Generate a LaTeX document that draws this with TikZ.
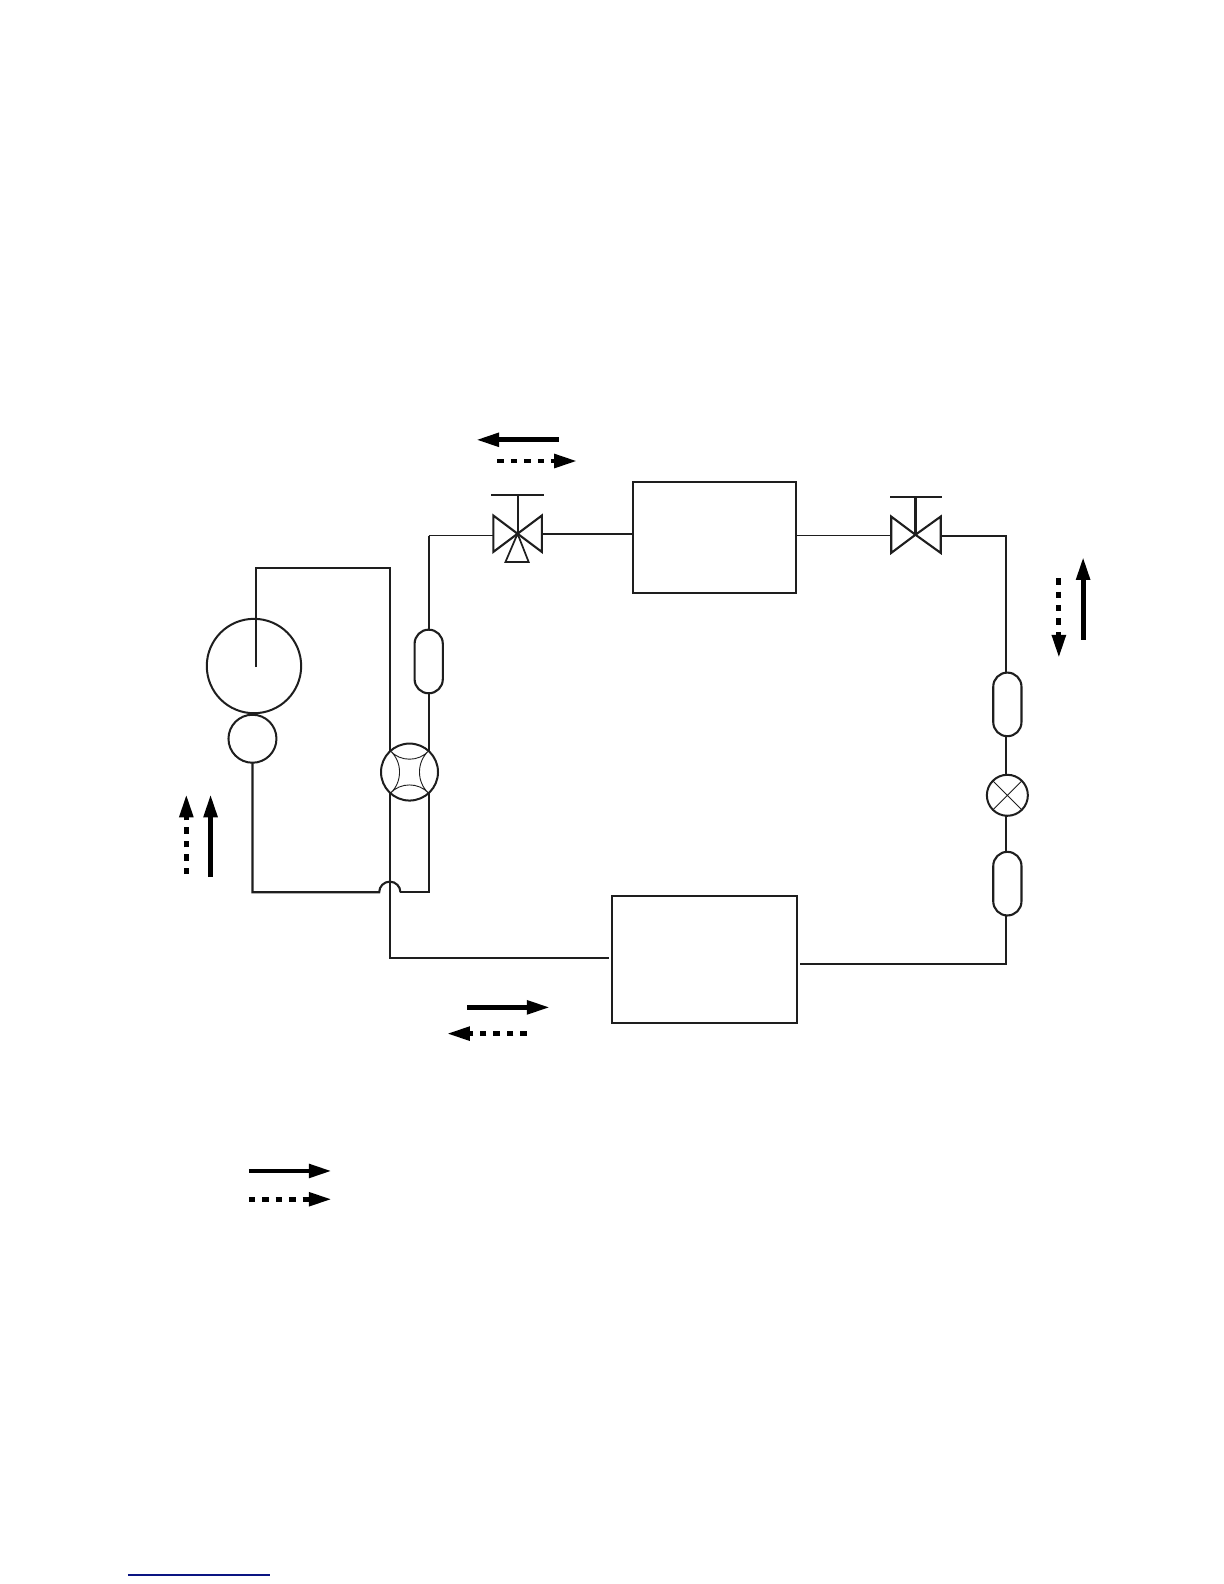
\documentclass[tikz,border=0pt]{standalone}
\usetikzlibrary{arrows.meta}
\definecolor{ink}{RGB}{30,30,30}
\tikzset{
  x=0.505pt,y=-0.505pt,
  pipe/.style={draw=ink,line width=1.05pt,line join=miter},
  thinpipe/.style={draw=ink,line width=0.65pt},
  fine/.style={draw=ink,line width=0.45pt},
  comp/.style={circle,draw=ink,line width=1pt,inner sep=0pt,outer sep=0pt},
  capsule/.style={rectangle,rounded corners=7pt,draw=ink,line width=1.05pt,fill=white,minimum width=14.1pt,minimum height=31.8pt,inner sep=0pt,outer sep=0pt},
  unit/.style={rectangle,draw=ink,line width=1pt,inner sep=0pt,outer sep=0pt},
  flow/.style={black,line width=2.4pt,-{Triangle[length=11.5pt,width=6.6pt]}},
  dflow/.style={flow,dash pattern=on 3.2pt off 3.5pt},
}
\begin{document}
\begin{tikzpicture}
\useasboundingbox (-0.5,-0.5) rectangle (1211.5,1568);
\fill[white] (-0.5,-0.5) rectangle (1211.5,1568);
% compressor
\node[comp,minimum size=47.2pt] (comp) at (251,659) {};
\node[comp,minimum size=24pt] (acc) at (249.5,731) {};
% units
\node[unit,minimum width=81.8pt,minimum height=55.5pt] (indoor) at (707,532) {};
\node[unit,minimum width=92.9pt,minimum height=63.6pt] (outdoor) at (697,950) {};
% named junctions
\coordinate (tube) at (253,660);
\coordinate (ctop) at (253,562);
\coordinate (rtop) at (386,562);
\coordinate (rbot) at (386,948);
\coordinate (obox) at (603,948);
\coordinate (lbot) at (250,883);
\coordinate (hopL) at (375,883);
\coordinate (hopR) at (396,883);
\coordinate (rrbot) at (424,883);
\coordinate (ptop) at (424,530);
% four-way valve
\coordinate (fv) at (405,764);
\coordinate (fvA) at (386,743);
\coordinate (fvB) at (424,743);
\coordinate (fvC) at (424,785);
\coordinate (fvD) at (386,785);
% service valves
\coordinate (v1) at (512,528);
\coordinate (v1L) at (488,530);
\coordinate (v1R) at (536,528);
\coordinate (v1stem) at (512,490);
\coordinate (v1barL) at (486,490);
\coordinate (v1barR) at (538,490);
\coordinate (v2) at (906,529);
\coordinate (v2L) at (882,530);
\coordinate (v2R) at (931,530);
\coordinate (v2stem) at (906,492);
\coordinate (v2barL) at (881,492);
\coordinate (v2barR) at (932,492);
\coordinate (rtc) at (996,530);
\coordinate (rbc) at (996,954);
\coordinate (obr) at (792,954);
\coordinate (iL) at (788,530);
\coordinate (iR) at (626,528);
% pipes
\draw[pipe,line width=0.85pt] (tube) -- (ctop) -- (rtop) -- (fvA);
\draw[pipe] (fvD) -- (rbot) -- (obox);
\draw[pipe] (acc.south) -- (acc.south |- lbot) -- (hopL) arc[start angle=180,end angle=360,radius=10.5];
\draw[pipe] (hopR) -- (rrbot) -- (fvC);
\draw[pipe] (fvB) -- (ptop);
\draw[thinpipe] (ptop) -- (v1L);
\draw[pipe] (v1R) -- (iR);
\draw[thinpipe] (iL) -- (v2L);
\draw[pipe] (v2R) -- (rtc) -- (rbc) -- (obr);
% capsules and expansion valve
\node[capsule] (cap1) at (424,654.5) {};
\node[capsule] (cap2) at (997,697) {};
\node[capsule] (cap3) at (997,874.5) {};
\node[comp,fill=white,minimum size=20.5pt] (ev) at (997,787) {};
\draw[fine] (ev.45) -- (ev.225) (ev.135) -- (ev.315);
% four-way valve body
\node[comp,fill=white,minimum size=28.5pt] (fourway) at (fv) {};
\draw[fine] (fvA) to[bend right=48] (fvB) to[bend right=48] (fvC) to[bend right=48] (fvD) to[bend right=48] (fvA);
% valve symbols
\draw[pipe] (v1) -- (488,510) -- (488,546) -- cycle;
\draw[pipe] (v1) -- (536,510) -- (536,546) -- cycle;
\draw[draw=ink,line width=0.85pt] (v1) -- (500,556) -- (523,556) -- cycle;
\draw[pipe] (v1stem) -- (v1);
\draw[pipe] (v1barL) -- (v1barR);
\draw[pipe] (v2) -- (882,511) -- (882,547) -- cycle;
\draw[pipe] (v2) -- (931,511) -- (931,547) -- cycle;
\draw[pipe] (v2stem) -- (v2);
\draw[pipe] (v2barL) -- (v2barR);
% flow arrows
\coordinate (a1s) at (553,435); \coordinate (a1e) at (471,435);
\coordinate (a2s) at (492,456); \coordinate (a2e) at (571,456);
\coordinate (a3s) at (1072,633); \coordinate (a3e) at (1072,551);
\coordinate (a4s) at (1048,572); \coordinate (a4e) at (1048,651);
\coordinate (a5s) at (184,865); \coordinate (a5e) at (184,786);
\coordinate (a6s) at (208,868); \coordinate (a6e) at (208,786);
\coordinate (a7s) at (462,997); \coordinate (a7e) at (544,997);
\coordinate (a8s) at (521,1023); \coordinate (a8e) at (442,1023);
\coordinate (a9s) at (246,1159); \coordinate (a9e) at (328,1159);
\coordinate (a10s) at (246,1187); \coordinate (a10e) at (328,1187);
\draw[flow] (a1s) -- (a1e);
\draw[dflow] (a2s) -- (a2e);
\draw[flow] (a3s) -- (a3e);
\draw[dflow] (a4s) -- (a4e);
\draw[dflow] (a5s) -- (a5e);
\draw[flow] (a6s) -- (a6e);
\draw[flow] (a7s) -- (a7e);
\draw[dflow] (a8s) -- (a8e);
\draw[flow] (a9s) -- (a9e);
\draw[dflow] (a10s) -- (a10e);
% footer rule
\coordinate (fl) at (126,1559); \coordinate (fr) at (267,1559);
\draw[color={rgb,255:red,10;green,20;blue,130},line width=0.7pt] (fl) -- (fr);
\end{tikzpicture}
\end{document}
